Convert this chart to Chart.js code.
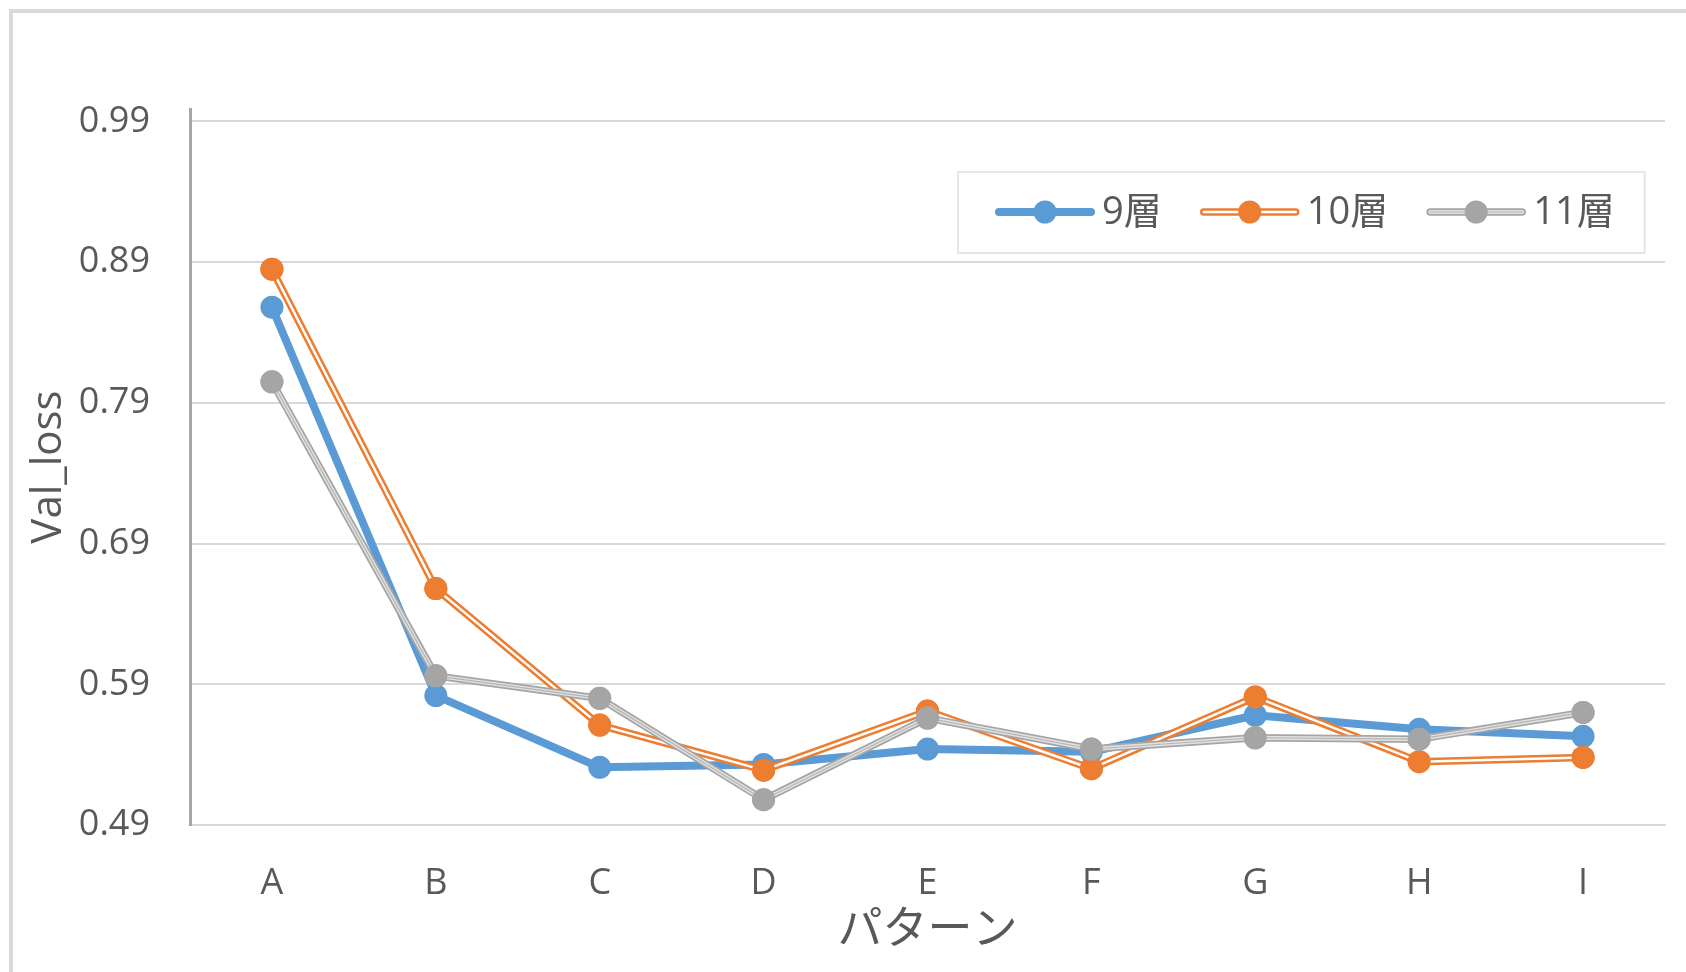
<!DOCTYPE html>
<html>
<head>
<meta charset="utf-8">
<script src="https://cdn.jsdelivr.net/npm/chart.js@4.4.1/dist/chart.umd.min.js"></script>
<style>
  html, body { margin: 0; padding: 0; background: #fff; overflow: hidden; }
  #wrap { position: relative; width: 1686px; height: 972px; }
  #frame {
    position: absolute; left: 9px; top: 9px; width: 1720px; height: 1000px;
    border-left: 4px solid #d9d9d9; border-top: 4px solid #d9d9d9;
    box-sizing: border-box; pointer-events: none;
  }
  canvas { position: absolute; left: 0; top: 0; }
</style>
</head>
<body>
<div id="wrap">
  <canvas id="c" width="1686" height="972"></canvas>
  <div id="frame"></div>
</div>
<script>
// Validation loss per pattern for networks of 9, 10 and 11 layers
const categories = ['A', 'B', 'C', 'D', 'E', 'F', 'G', 'H', 'I'];
const seriesNames = ['9層', '10層', '11層'];
const loss9  = [0.858, 0.582, 0.531, 0.533, 0.544, 0.542, 0.568, 0.558, 0.553];
const loss10 = [0.885, 0.658, 0.561, 0.529, 0.571, 0.530, 0.581, 0.535, 0.538];
const loss11 = [0.805, 0.596, 0.580, 0.508, 0.566, 0.544, 0.552, 0.551, 0.570];
const yTickValues = [0.49, 0.59, 0.69, 0.79, 0.89, 0.99];
const xTitle = 'パターン';
const yTitle = 'Val_loss';

const FONT = "'Open Sans', 'Noto Sans CJK JP', sans-serif";
const TEXT = '#595959';
Chart.defaults.font.family = FONT;
Chart.defaults.color = TEXT;

const BLUE = '#5B9BD5', ORANGE = '#ED7D31', GRAY = '#A5A5A5';

// Double / compound line strokes painted over the base line, then points on top
const compoundLine = {
  id: 'compoundLine',
  afterDatasetDraw(chart, args) {
    const ds = chart.data.datasets[args.index];
    const strokes = ds.innerStrokes;
    if (!strokes) return;
    const pts = args.meta.data;
    const ctx = chart.ctx;
    ctx.save();
    ctx.lineJoin = 'round';
    ctx.lineCap = 'round';
    strokes.forEach(s => {
      ctx.beginPath();
      pts.forEach((p, i) => i ? ctx.lineTo(p.x, p.y) : ctx.moveTo(p.x, p.y));
      ctx.strokeStyle = s.color;
      ctx.lineWidth = s.width;
      ctx.stroke();
    });
    ctx.restore();
    pts.forEach(p => p.draw(ctx, chart.chartArea));
  }
};

// Boxed legend inside the plot, with line + marker samples
const boxLegend = {
  id: 'boxLegend',
  afterDraw(chart) {
    const ctx = chart.ctx;
    const cy = 212;
    const lineLen = 100, textGap = 7, itemGap = 38;
    ctx.save();
    ctx.font = `38px ${FONT}`;
    const boxL = 958, boxT = 172, boxB = 253;
    let x = 995;
    const items = chart.data.datasets.map(ds => {
      const w = ctx.measureText(ds.label).width;
      const it = { ds, x, w };
      x += lineLen + textGap + w + itemGap;
      return it;
    });
    const last = items[items.length - 1];
    const boxR = last.x + lineLen + textGap + last.w + 30;
    ctx.fillStyle = '#fff';
    ctx.fillRect(boxL, boxT, boxR - boxL, boxB - boxT);
    ctx.strokeStyle = '#e6e6e6';
    ctx.lineWidth = 2;
    ctx.strokeRect(boxL, boxT, boxR - boxL, boxB - boxT);

    items.forEach(({ ds, x }) => {
      ctx.lineCap = 'round';
      ctx.beginPath();
      ctx.moveTo(x + 4, cy); ctx.lineTo(x + lineLen - 4, cy);
      ctx.strokeStyle = ds.borderColor; ctx.lineWidth = ds.borderWidth;
      ctx.stroke();
      (ds.innerStrokes || []).forEach(s => {
        ctx.beginPath();
        ctx.moveTo(x + 4, cy); ctx.lineTo(x + lineLen - 4, cy);
        ctx.strokeStyle = s.color; ctx.lineWidth = s.width;
        ctx.stroke();
      });
      ctx.beginPath();
      ctx.arc(x + lineLen / 2, cy, ds.pointRadius, 0, Math.PI * 2);
      ctx.fillStyle = ds.pointBackgroundColor;
      ctx.fill();
      ctx.fillStyle = TEXT;
      ctx.textBaseline = 'middle';
      ctx.textAlign = 'left';
      ctx.fillText(ds.label, x + lineLen + textGap, cy + 1);
    });
    ctx.restore();
  }
};

function series(label, data, color, width, inner, order) {
  return {
    label, data, order,
    borderColor: color, borderWidth: width,
    borderJoinStyle: 'round', borderCapStyle: 'round',
    pointRadius: 11.5, pointHoverRadius: 11.5,
    pointBackgroundColor: color, pointBorderColor: color, pointBorderWidth: 0,
    tension: 0, fill: false,
    innerStrokes: inner
  };
}

new Chart(document.getElementById('c'), {
  type: 'line',
  data: {
    labels: categories,
    datasets: [
      series(seriesNames[0], loss9, BLUE, 8, null, 2),
      series(seriesNames[1], loss10, ORANGE, 7.5, [{ color: '#ffffff', width: 2.5 }], 1),
      series(seriesNames[2], loss11, GRAY, 7.5,
        [{ color: '#e2e2e2', width: 4 }, { color: '#b4b4b4', width: 1.2 }], 0)
    ]
  },
  options: {
    responsive: false,
    animation: false,
    devicePixelRatio: 1,
    layout: { padding: { left: 0, top: 109, right: 21, bottom: 0 } },
    plugins: { legend: { display: false }, tooltip: { enabled: false } },
    scales: {
      x: {
        offset: true,
        grid: { display: false, drawTicks: false },
        border: { display: true, color: '#d9d9d9', width: 2 },
        ticks: { color: TEXT, font: { size: 36 }, padding: 37, maxRotation: 0 },
        title: { display: true, text: xTitle, color: TEXT, font: { size: 45 }, padding: { top: 0, bottom: 14 } },
        afterFit(scale) { scale.height = 147; }
      },
      y: {
        min: 0.49,
        max: 0.99888,
        afterBuildTicks(scale) { scale.ticks = yTickValues.map(v => ({ value: v })); },
        grid: { color: '#d9d9d9', lineWidth: 2, drawTicks: false },
        border: { display: true, color: '#a6a6a6', width: 3 },
        ticks: { color: TEXT, font: { size: 36 }, padding: 40, callback: v => Number(v).toFixed(2) },
        title: { display: true, text: yTitle, color: TEXT, font: { size: 42 }, padding: { top: 24, bottom: 0 } },
        afterFit(scale) { scale.width = 190; }
      }
    }
  },
  plugins: [compoundLine, boxLegend]
});
</script>
</body>
</html>
